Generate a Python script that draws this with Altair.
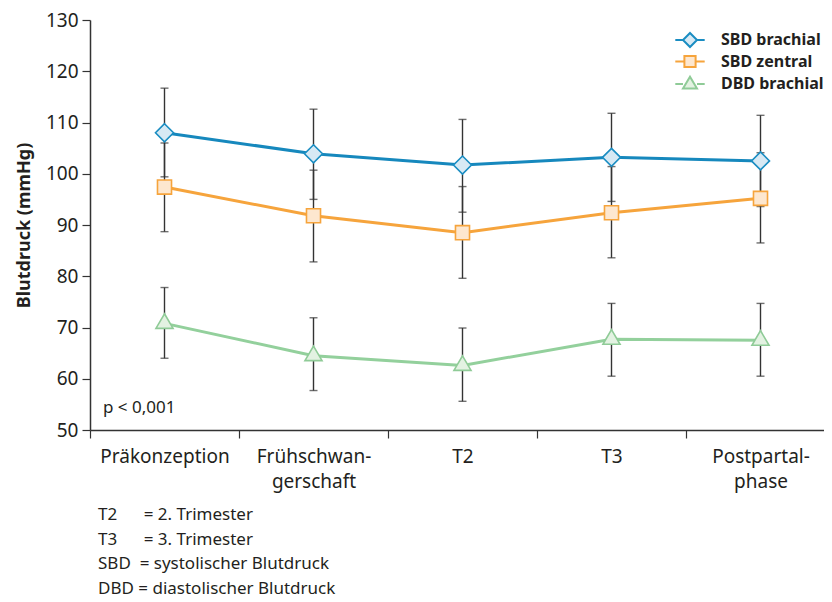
import altair as alt
import pandas as pd

# ---------------- data ----------------
phases = ["Präkonzeption", "Frühschwan-|gerschaft", "T2", "T3", "Postpartal-|phase"]
series = ["SBD brachial", "SBD zentral", "DBD brachial"]

sbd_brachial_mean = [108.0, 103.9, 101.7, 103.2, 102.5]
sbd_brachial_lo = [99.4, 95.0, 92.5, 94.6, 93.6]
sbd_brachial_hi = [116.7, 112.6, 110.6, 111.8, 111.4]

sbd_zentral_mean = [97.4, 91.8, 88.5, 92.4, 95.2]
sbd_zentral_lo = [88.7, 82.8, 79.6, 83.6, 86.5]
sbd_zentral_hi = [106.0, 100.7, 97.5, 101.4, 104.1]

dbd_brachial_mean = [70.8, 64.5, 62.6, 67.7, 67.5]
dbd_brachial_lo = [64.0, 57.7, 55.6, 60.5, 60.5]
dbd_brachial_hi = [77.8, 71.9, 69.9, 74.7, 74.7]

y_ticks = [50, 60, 70, 80, 90, 100, 110, 120, 130]
p_text = ["p < 0,001"]
NB = "\u00a0"
footnotes = [
    "T2" + NB * 6 + "= 2. Trimester",
    "T3" + NB * 6 + "= 3. Trimester",
    "SBD" + NB + " = systolischer Blutdruck",
    "DBD = diastolischer Blutdruck",
]

# ---------------- styles ----------------
line_colors = ["#1688bd", "#f6a43c", "#93d09c"]
marker_strokes = ["#1a8dc2", "#f6a43c", "#8fcb97"]
marker_fills = ["#d7e9f4", "#fde7cf", "#e3f2e2"]
marker_paths = [
    "M0,-1L1,0L0,1L-1,0Z",
    "M-0.78,-0.78H0.78V0.78H-0.78Z",
    "M0,-1.07L0.95,0.55L-0.95,0.55Z",
]
legend_paths = [
    "M-2.1,0H-1M1,0H2.1M0,-1L1,0L0,1L-1,0Z",
    "M-2.1,0H-0.8M0.8,0H2.1M-0.8,-0.8H0.8V0.8H-0.8Z",
    "M-2.1,0H-1M1,0H2.1M0,-1.05L1,0.65L-1,0.65Z",
]
FONT = "Noto Sans"
TXT = "#231f20"

rows = []
for s, m, lo, hi in [
    (series[0], sbd_brachial_mean, sbd_brachial_lo, sbd_brachial_hi),
    (series[1], sbd_zentral_mean, sbd_zentral_lo, sbd_zentral_hi),
    (series[2], dbd_brachial_mean, dbd_brachial_lo, dbd_brachial_hi),
]:
    for p, mv, l, h in zip(phases, m, lo, hi):
        rows.append({"phase": p, "series": s, "mean": mv, "lo": l, "hi": h})
df = pd.DataFrame(rows)

x_enc = alt.X(
    "phase:N",
    sort=phases,
    scale=alt.Scale(type="band", domain=phases, paddingInner=0, paddingOuter=0, range=[0, 745]),
    axis=alt.Axis(
        title=None,
        labelAngle=0,
        tickBand="extent",
        labelExpr="split(datum.label, '|')",
        labelLineHeight=25,
        labelFontSize=19,
        labelColor=TXT,
        labelPadding=9,
        tickSize=8,
        tickColor="#333333",
        tickWidth=1.2,
        domainColor="#333333",
        domainWidth=1.5,
        labelFont=FONT,
    ),
)
y_scale = alt.Scale(domain=[50, 130], nice=False, zero=False)
y_enc = alt.Y(
    "mean:Q",
    scale=y_scale,
    axis=alt.Axis(
        title="Blutdruck (mmHg)",
        values=y_ticks,
        grid=False,
        tickSize=8,
        tickColor="#333333",
        tickWidth=1.2,
        domainColor="#333333",
        domainWidth=1.5,
        labelFontSize=19,
        labelColor=TXT,
        labelPadding=4,
        labelFont=FONT,
        titleFont=FONT,
        titleFontSize=18,
        titleFontWeight="bold",
        titleColor=TXT,
        titlePadding=12,
    ),
)

base = alt.Chart(df)

err_rule = base.mark_rule(color="#333333", strokeWidth=1.4).encode(
    x=x_enc, y=alt.Y("lo:Q", scale=y_scale), y2="hi:Q"
)
err_lo = base.mark_tick(color="#333333", thickness=1.4, size=8).encode(
    x=x_enc, y=alt.Y("lo:Q", scale=y_scale)
)
err_hi = base.mark_tick(color="#333333", thickness=1.4, size=8).encode(
    x=x_enc, y=alt.Y("hi:Q", scale=y_scale)
)

lines = base.mark_line(strokeWidth=3).encode(
    x=x_enc,
    y=y_enc,
    detail="series:N",
    stroke=alt.Stroke("series:N", scale=alt.Scale(domain=series, range=line_colors), legend=None),
)

markers = base.mark_point(filled=True, opacity=1, strokeWidth=1.6, size=324).encode(
    x=x_enc,
    y=alt.Y("mean:Q", scale=y_scale),
    shape=alt.Shape("series:N", scale=alt.Scale(domain=series, range=marker_paths), legend=None),
    fill=alt.Fill("series:N", scale=alt.Scale(domain=series, range=marker_fills), legend=None),
    stroke=alt.Stroke("series:N", scale=alt.Scale(domain=series, range=marker_strokes), legend=None),
)

leg = alt.Legend(
    title=None,
    orient="none",
    legendX=592,
    legendY=12,
    symbolSize=196,
    symbolStrokeWidth=2,
    symbolOpacity=1,
    labelOffset=23,
    labelFont=FONT,
    labelFontSize=16,
    labelFontWeight="bold",
    labelColor=TXT,
    rowPadding=0.5,
    padding=0,
)
legend_layer = base.mark_point(filled=True, opacity=0, strokeWidth=2).encode(
    shape=alt.Shape("series:N", scale=alt.Scale(domain=series, range=legend_paths), legend=leg),
    fill=alt.Fill("series:N", scale=alt.Scale(domain=series, range=marker_fills), legend=leg),
    stroke=alt.Stroke("series:N", scale=alt.Scale(domain=series, range=marker_strokes), legend=leg),
)

ptext = alt.Chart(pd.DataFrame({"t": p_text})).mark_text(
    align="left", baseline="middle", fontSize=17, font=FONT, color=TXT
).encode(x=alt.value(13), y=alt.datum(54.2, scale=y_scale), text="t:N")

chart = (
    alt.layer(err_rule, err_lo, err_hi, lines, markers, legend_layer, ptext)
    .resolve_scale(shape="independent", fill="independent", stroke="independent")
    .properties(
        width=734,
        height=410,
        autosize=alt.AutoSizeParams(type="none"),
        padding={"left": 82, "top": 12, "right": 0, "bottom": 168},
        title=alt.TitleParams(
            text=footnotes,
            orient="bottom",
            anchor="start",
            align="left",
            frame="group",
            font=FONT,
            fontSize=17,
            fontWeight="normal",
            color=TXT,
            lineHeight=24.5,
            offset=16,
            dx=8,
        ),
    )
    .configure_view(stroke=None)
)

chart.save("out.html", embed_options={"renderer": "svg", "actions": False})
